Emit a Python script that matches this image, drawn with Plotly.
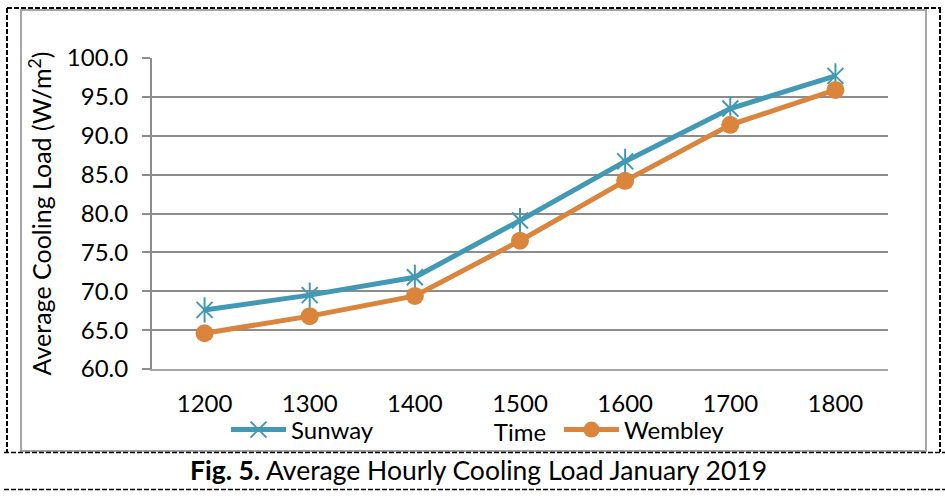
import plotly.graph_objects as go

times = ["1200", "1300", "1400", "1500", "1600", "1700", "1800"]
sunway = [67.6, 69.5, 71.8, 79.1, 86.7, 93.5, 97.7]
wembley = [64.6, 66.8, 69.4, 76.5, 84.2, 91.4, 95.9]
y_ticks = [60, 65, 70, 75, 80, 85, 90, 95, 100]

TEAL = "#4299B3"
ORANGE = "#DA843C"
FONT = "Lato"

W, H = 945, 500
L, R, T, B = 152, 888, 58, 369


def px(x):
    return (x - L) / (R - L)


def py(y):
    return (B - y) / (B - T)


fig = go.Figure()
fig.add_trace(go.Scatter(
    x=times, y=sunway, name="Sunway", mode="lines+markers",
    line=dict(color=TEAL, width=5),
    marker=dict(symbol="x-thin-open", size=16, color=TEAL, line=dict(color=TEAL, width=2)),
    legendgroup="s",
))
fig.add_trace(go.Scatter(
    x=times, y=sunway, name="Sunway", mode="markers", showlegend=False,
    marker=dict(symbol="line-ns-open", size=18, color=TEAL, line=dict(color=TEAL, width=2)),
    legendgroup="s", hoverinfo="skip",
))
fig.add_trace(go.Scatter(
    x=times, y=wembley, name="Wembley", mode="lines+markers",
    line=dict(color=ORANGE, width=5),
    marker=dict(symbol="circle", size=18, color=ORANGE),
))

shapes = []
dash_style = dict(color="black", width=2, dash="5px,2px")
# outer dashed border
shapes.append(dict(type="line", xref="paper", yref="paper", x0=px(7), x1=px(941), y0=py(8), y1=py(8), line=dash_style))
shapes.append(dict(type="line", xref="paper", yref="paper", x0=px(7), x1=px(7), y0=py(8), y1=py(452), line=dash_style))
shapes.append(dict(type="line", xref="paper", yref="paper", x0=px(940), x1=px(940), y0=py(8), y1=py(452), line=dash_style))
thin_dash = dict(color="black", width=1.3, dash="5px,2px")
shapes.append(dict(type="line", xref="paper", yref="paper", x0=px(4), x1=px(945), y0=py(452.5), y1=py(452.5), line=thin_dash))
shapes.append(dict(type="line", xref="paper", yref="paper", x0=px(4), x1=px(945), y0=py(489.5), y1=py(489.5), line=thin_dash))
# inner grey chart-area border
shapes.append(dict(type="rect", xref="paper", yref="paper", x0=px(21), x1=px(926), y0=py(10), y1=py(451),
                   line=dict(color="#A6A6A6", width=2), layer="below"))

fig.update_layout(
    width=W, height=H,
    margin=dict(l=L, r=W - R, t=T, b=H - B),
    paper_bgcolor="white", plot_bgcolor="white",
    font=dict(family=FONT, size=24, color="black"),
    shapes=shapes,
    showlegend=True,
    legend=dict(
        orientation="h", x=px(226), y=py(430), xanchor="left", yanchor="middle",
        entrywidth=263, entrywidthmode="pixels", itemwidth=55,
        font=dict(family=FONT, size=24), bgcolor="rgba(0,0,0,0)",
        tracegroupgap=0,
    ),
    xaxis=dict(
        type="category", showgrid=False, showline=True, linecolor="#A6A6A6", linewidth=2,
        ticks="", tickfont=dict(size=24), range=[-0.5, 6.5], ticklabelstandoff=12,
        title=dict(text="Time", font=dict(size=24), standoff=2),
        zeroline=False,
    ),
    yaxis=dict(
        range=[60, 100], tickvals=y_ticks, tickformat=".1f",
        showgrid=True, gridcolor="#8C8C8C", gridwidth=2,
        showline=True, linecolor="#8C8C8C", linewidth=2,
        ticks="outside", ticklen=8, tickcolor="#8C8C8C", tickwidth=2,
        tickfont=dict(size=24), ticklabelstandoff=9,
        title=dict(text="Average Cooling Load (W/m<sup>2</sup>)", font=dict(size=25), standoff=8),
        zeroline=False,
    ),
    annotations=[dict(
        xref="paper", yref="paper", x=px(478), y=py(470), xanchor="center", yanchor="middle",
        text="<b>Fig. 5.</b> Average Hourly Cooling Load January 2019",
        showarrow=False, font=dict(family=FONT, size=26.5, color="black"),
    )],
)

fig.write_html("out.html")
